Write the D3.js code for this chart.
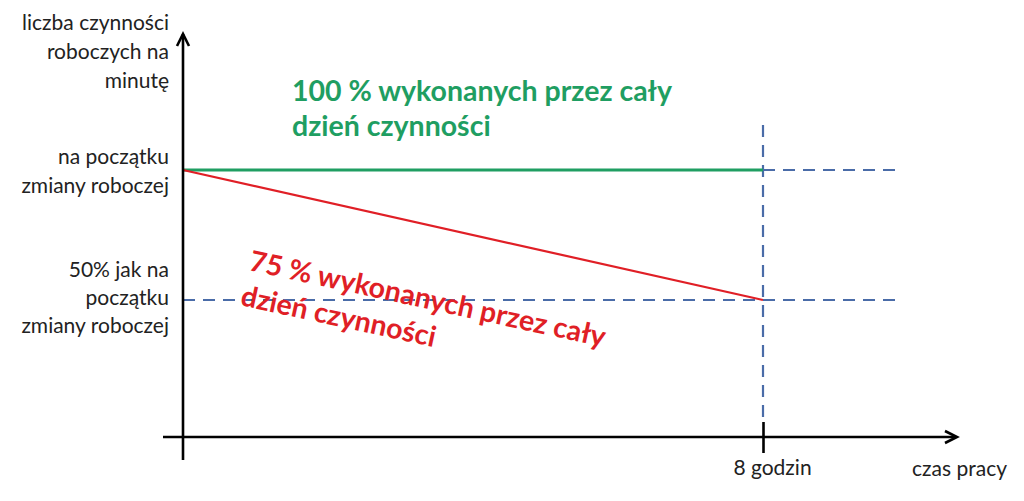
<!DOCTYPE html>
<html>
<head>
  <meta charset="utf-8">
  <title>Wydajność w czasie zmiany</title>
  <script src="https://d3js.org/d3.v7.min.js"></script>
  <style>
    body { margin: 0; background: #fff; }
    text { font-family: Lato, "Open Sans", sans-serif; }
  </style>
</head>
<body>
<svg width="1024" height="501"></svg>
<script>
// data
var hours = [0, 8]
var fullDay = [100, 100]      // 100 % przez cały dzień
var declining = [100, 50]     // spadek do 50 %
var yLevels = [100, 50]
var yLabels = [
  ["na początku", "zmiany roboczej"],
  ["50% jak na", "początku", "zmiany roboczej"]
]
var yTitle = ["liczba czynności", "roboczych na", "minutę"]
var xTicks = [8]
var xTickLabels = ["8 godzin"]
var xTitle = "czas pracy"
var greenNote = ["100 % wykonanych przez cały", "dzień czynności"]
var redNote = ["75 % wykonanych przez cały", "dzień czynności"]

var svg = d3.select("svg")
var blue = "#4a6ca8", green = "#1f9e62", red = "#e01f26"
var labelSize = 21, noteSize = 28.5

var x = d3.scaleLinear().domain([0, 8]).range([183, 763])
var y = d3.scaleLinear().domain([50, 100]).range([300, 170])
var axisY = 437

// dashed guides
svg.append("g").selectAll("line")
  .data(yLevels)
  .enter().append("line")
    .attr("x1", x(0)).attr("x2", 900)
    .attr("y1", d => y(d)).attr("y2", d => y(d))
    .attr("stroke", blue).attr("stroke-width", 2.2)
    .attr("stroke-dasharray", "12,8")

svg.append("g").selectAll("line")
  .data(xTicks)
  .enter().append("line")
    .attr("x1", d => x(d)).attr("x2", d => x(d))
    .attr("y1", 125).attr("y2", 422)
    .attr("stroke", blue).attr("stroke-width", 2.2)
    .attr("stroke-dasharray", "12,8")

// series
var line = d3.line().x(d => x(d[0])).y(d => y(d[1]))
svg.append("path")
  .attr("d", line(d3.zip(hours, fullDay)))
  .attr("fill", "none").attr("stroke", green).attr("stroke-width", 3)
svg.append("path")
  .attr("d", line(d3.zip(hours, declining)))
  .attr("fill", "none").attr("stroke", red).attr("stroke-width", 2.2)

// axes with arrows
svg.append("line")
  .attr("x1", 183).attr("x2", 183).attr("y1", 34).attr("y2", 460)
  .attr("stroke", "#000").attr("stroke-width", 2.6)
svg.append("polyline")
  .attr("points", "177,46 183,34 189,46")
  .attr("fill", "none").attr("stroke", "#000").attr("stroke-width", 2.6)
svg.append("line")
  .attr("x1", 163).attr("x2", 956).attr("y1", axisY).attr("y2", axisY)
  .attr("stroke", "#000").attr("stroke-width", 2.6)
svg.append("polyline")
  .attr("points", "945,431 957,437 945,443")
  .attr("fill", "none").attr("stroke", "#000").attr("stroke-width", 2.6)

var xAxis = svg.append("g")
  .attr("transform", "translate(0," + axisY + ")")
  .call(d3.axisBottom(x).tickValues(xTicks).tickSize(16)
    .tickFormat((d, i) => xTickLabels[i]))
xAxis.select(".domain").remove()
xAxis.selectAll(".tick line")
  .attr("y1", -15).attr("stroke", "#000").attr("stroke-width", 2.6)
xAxis.selectAll(".tick text")
  .attr("y", 38).attr("dy", 0).attr("dx", 9)
  .attr("font-size", labelSize).attr("font-family", "Lato, sans-serif").attr("fill", "#222")

svg.append("text")
  .attr("x", 1007).attr("y", 476).attr("text-anchor", "end")
  .attr("font-size", labelSize).attr("fill", "#222")
  .text(xTitle)

// y labels
function block(lines, firstBaseline, step) {
  var t = svg.append("text")
    .attr("text-anchor", "end").attr("font-size", labelSize).attr("fill", "#222")
  t.selectAll("tspan").data(lines).enter().append("tspan")
    .attr("x", 169)
    .attr("y", (d, i) => firstBaseline + i * step)
    .text(d => d)
}
block(yTitle, 30, 29)
block(yLabels[0], y(yLevels[0]) - 6, 29)
block(yLabels[1], y(yLevels[1]) - 23, 28)

// notes
var g1 = svg.append("text")
  .attr("font-size", noteSize).attr("font-weight", "bold").attr("fill", green)
g1.selectAll("tspan").data(greenNote).enter().append("tspan")
  .attr("x", 292).attr("y", (d, i) => 101 + i * 35)
  .text(d => d)

var ang = Math.atan2(y(50) - y(100), x(8) - x(0)) * 180 / Math.PI
var g2 = svg.append("g")
  .attr("transform", "translate(248,270) rotate(" + (ang - 0.4) + ")")
  .append("text")
  .attr("font-size", noteSize).attr("font-weight", "bold").attr("fill", red)
g2.selectAll("tspan").data(redNote).enter().append("tspan")
  .attr("x", (d, i) => i * -1).attr("y", (d, i) => i * 36)
  .text(d => d)
</script>
</body>
</html>
